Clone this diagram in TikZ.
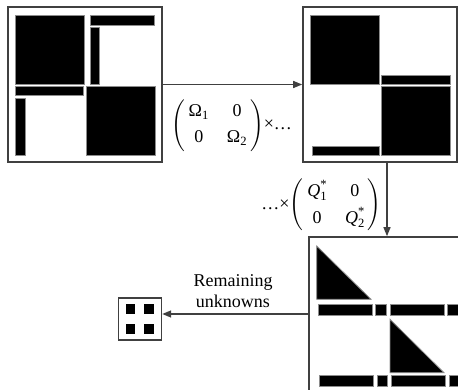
\documentclass[tikz,border=0pt]{standalone}
\usepackage{amsmath}
\usepackage{fontspec}
\setmainfont{Liberation Serif}
\usetikzlibrary{arrows.meta}
\begin{document}
\begin{tikzpicture}[x=1pt,y=-1pt,
  panel/.style={draw=black!75,line width=1.6pt,fill=white,inner sep=0pt},
  blk/.style={fill=black,draw=black!45,line width=0.8pt},
  conn/.style={draw=black!75,line width=1.3pt,-{Triangle[length=9pt,width=7pt]}},
  lbl/.style={font=\fontsize{18}{21}\selectfont,inner sep=0pt}]
\useasboundingbox (0,0) rectangle (458,390);
\begin{scope}
\clip (0,0) rectangle (458,390);
% panels
\node[panel,minimum width=154pt,minimum height=155pt] (p1) at (85,84.5) {};
\node[panel,minimum width=154pt,minimum height=155pt] (p2) at (380,84.5) {};
\node[panel,minimum width=170pt,minimum height=170pt] (p3) at (394,322) {};
\node[panel,line width=1.4pt,minimum width=43pt,minimum height=42pt] (p4) at (140,319) {};
% panel 1 blocks
\draw[blk] (15,15) rectangle (84,84);
\draw[blk] (90,15) rectangle (154,25);
\draw[blk] (90,27) rectangle (99,84);
\draw[blk] (15,86) rectangle (83,95);
\draw[blk] (15,98) rectangle (25,155);
\draw[blk] (86,86) rectangle (155,155);
% panel 2 blocks
\draw[blk] (310,15) rectangle (379,84);
\draw[blk] (381,75) rectangle (450,84);
\draw[blk] (381,86) rectangle (450,155);
\draw[blk] (312,146) rectangle (379,155);
% panel 3 blocks
\draw[blk] (316.7,246) -- (316.7,299.3) -- (371,299.3) -- cycle;
\draw[blk] (318.3,304.7) rectangle (372.7,315);
\draw[blk] (375.7,304.7) rectangle (386,315);
\draw[blk] (390,304.7) rectangle (444,315);
\draw[blk] (447.3,304.7) rectangle (475,315);
\draw[blk] (390,319.3) -- (390,372.7) -- (444,372.7) -- cycle;
\draw[blk] (319.3,375.7) rectangle (373.3,386);
\draw[blk] (377.3,375.7) rectangle (387.3,386);
\draw[blk] (391,375.7) rectangle (445.7,386);
\draw[blk] (449,375.7) rectangle (475,386);
% panel 4 blocks
\fill (126,304) rectangle (135,314);
\fill (144.3,304) rectangle (154,314);
\fill (126,324) rectangle (135,334);
\fill (144.3,324) rectangle (154,334);
% connectors
\coordinate (ax) at (387,0);
\coordinate (ay) at (0,314);
\draw[conn] (p1.east) -- (p2.west);
\draw[conn] (p2.south -| ax) -- (p3.north -| ax);
\draw[conn] (p3.west |- ay) -- (p4.east |- ay);
% labels
\node[lbl] (m1) at (231.5,125.5) {$\left(\begin{array}{@{\hspace{4pt}}c@{\hspace{18pt}}c@{\hspace{3pt}}}\text{Ω}_{\text{1}} & \text{0}\\[5pt] \text{0} & \text{Ω}_{\text{2}}\end{array}\right)$\texttimes…};
\node[lbl] (m2) at (321.5,205) {…\texttimes$\left(\begin{array}{@{\hspace{4pt}}c@{\hspace{18pt}}c@{\hspace{3pt}}}\textit{Q}^{\text{*}}_{\text{1}} & \text{0}\\[5pt] \text{0} & \textit{Q}^{\text{*}}_{\text{2}}\end{array}\right)$};
\node[lbl,align=center] (rem) at (233,291) {Remaining\\unknowns};
\end{scope}
\end{tikzpicture}
\end{document}
